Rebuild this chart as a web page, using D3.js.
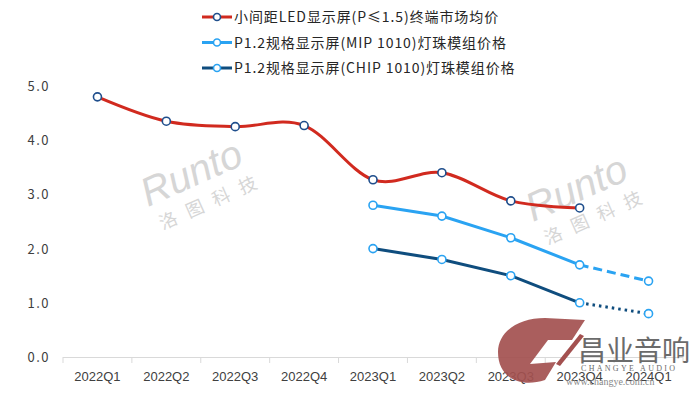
<!DOCTYPE html>
<html>
<head>
<meta charset="utf-8">
<script src="https://cdn.jsdelivr.net/npm/d3@7"></script>
<style>
  body { margin: 0; background: #fff; }
  svg { display: block; font-family: "Noto Sans CJK SC", "Noto Sans", sans-serif; }
</style>
</head>
<body>
<div id="chart"></div>
<script>
// data
const quarters = ["2022Q1", "2022Q2", "2022Q3", "2022Q4", "2023Q1", "2023Q2", "2023Q3", "2023Q4", "2024Q1"];
const terminalPrice = [4.8, 4.35, 4.25, 4.27, 3.27, 3.4, 2.88, 2.75];
const mipQuarters = ["2023Q1", "2023Q2", "2023Q3", "2023Q4", "2024Q1"];
const mipPrice = [2.8, 2.6, 2.2, 1.7, 1.4];
const chipPrice = [2.0, 1.8, 1.5, 1.0, 0.8];
const yTicks = [0, 1, 2, 3, 4, 5];
const seriesNames = ["小间距LED显示屏(P≤1.5)终端市场均价", "P1.2规格显示屏(MIP 1010)灯珠模组价格", "P1.2规格显示屏(CHIP 1010)灯珠模组价格"];

const width = 700, height = 394;
const RED = "#d12a1f", LIGHT = "#2aa3f2", DARK = "#0f4d7e", MARK_DARK = "#1f4e8c";

const svg = d3.select("#chart").append("svg")
    .attr("width", width)
    .attr("height", height);

let x = d3.scaleBand().domain(quarters).range([63, 683]);
let y = d3.scaleLinear().domain([0, 5]).range([357, 86]);
const cx = q => x(q) + x.bandwidth() / 2;

// watermarks (drawn first, behind the lines)
function runto(px, py) {
    let g = svg.append("g").attr("transform", `translate(${px},${py}) rotate(-24)`).attr("fill", "#d6d6d6");
    g.append("text").attr("font-family", "Liberation Sans").attr("font-style", "italic")
        .attr("font-size", 40).attr("x", 0).attr("y", 0).text("Runto");
    g.append("text").attr("font-size", 18).attr("x", 4).attr("y", 27).attr("letter-spacing", 11).text("洛图科技");
}
runto(148, 207);
runto(533, 222);

// x axis
svg.append("line").attr("x1", 63).attr("x2", 683).attr("y1", 357.5).attr("y2", 357.5)
    .attr("stroke", "#d9d9d9").attr("stroke-width", 1.2);
svg.selectAll(".xtick").data(d3.range(quarters.length + 1)).enter().append("line")
    .attr("x1", i => 63 + i * x.step()).attr("x2", i => 63 + i * x.step())
    .attr("y1", 357).attr("y2", 363).attr("stroke", "#d9d9d9");
svg.selectAll(".xlab").data(quarters).enter().append("text")
    .attr("x", d => cx(d)).attr("y", 381)
    .attr("text-anchor", "middle").attr("font-size", 13).attr("fill", "#404040")
    .attr("font-family", "Liberation Sans")
    .text(d => d);

// y labels
svg.selectAll(".ylab").data(yTicks).enter().append("text")
    .attr("x", 50).attr("y", d => y(d) + 5)
    .attr("text-anchor", "end").attr("font-size", 13).attr("fill", "#404040")
    .attr("letter-spacing", 1.5)
    .text(d => d.toFixed(1));

// logo bottom right
let logo = svg.append("g");
logo.append("path")
    .attr("fill-rule", "evenodd")
    .attr("d", "M545,318 L585,320 L572,340 L548,340 L530,364 L556,362 L545,380 C520,388 498,378 498,352 C498,332 518,318 545,318 Z")
    .attr("fill", "#a3504f").attr("opacity", 0.92);
logo.append("path").attr("d", "M556,364 L580,334 L584,336 L560,366 Z").attr("fill", "#a3504f");
logo.append("text").attr("x", 578).attr("y", 361).attr("font-size", 28).attr("fill", "#6b6b6b")
    .text("昌业音响");
logo.append("text").attr("x", 581).attr("y", 371).attr("font-size", 8).attr("fill", "#6b6b6b")
    .attr("font-family", "Liberation Serif").attr("letter-spacing", 2.3).text("CHANGYE AUDIO");
logo.append("text").attr("x", 566).attr("y", 385).attr("font-size", 10).attr("fill", "#888")
    .attr("font-family", "Liberation Serif").text("www.changye.com.cn");

// red smoothed line
const redPts = terminalPrice.map((v, i) => [cx(quarters[i]), y(v)]);
svg.append("path").datum(redPts)
    .attr("d", d3.line().curve(d3.curveCatmullRom.alpha(0)))
    .attr("fill", "none").attr("stroke", RED).attr("stroke-width", 3);

// blue lines: solid part then dashed/dotted last segment
function seriesLine(vals, color, dash) {
    let pts = vals.map((v, i) => [cx(mipQuarters[i]), y(v)]);
    svg.append("path").datum(pts.slice(0, 4)).attr("d", d3.line())
        .attr("fill", "none").attr("stroke", color).attr("stroke-width", 3);
    svg.append("path").datum(pts.slice(3)).attr("d", d3.line())
        .attr("fill", "none").attr("stroke", color).attr("stroke-width", 3)
        .attr("stroke-dasharray", dash);
    return pts;
}
const mipPts = seriesLine(mipPrice, LIGHT, "9,5");
const chipPts = seriesLine(chipPrice, DARK, "2.5,4");

function markers(pts, stroke) {
    svg.append("g").selectAll("circle").data(pts).enter().append("circle")
        .attr("cx", d => d[0]).attr("cy", d => d[1]).attr("r", 4)
        .attr("fill", "#fff").attr("stroke", stroke).attr("stroke-width", 1.6);
}
markers(redPts, MARK_DARK);
markers(mipPts, LIGHT);
markers(chipPts, LIGHT);

// legend
const legendColors = [[RED, MARK_DARK], [LIGHT, LIGHT], [DARK, LIGHT]];
seriesNames.forEach((name, i) => {
    let ly = 17 + i * 25.5;
    svg.append("line").attr("x1", 202).attr("x2", 232).attr("y1", ly).attr("y2", ly)
        .attr("stroke", legendColors[i][0]).attr("stroke-width", 3);
    svg.append("circle").attr("cx", 217).attr("cy", ly).attr("r", 3.5)
        .attr("fill", "#fff").attr("stroke", legendColors[i][1]).attr("stroke-width", 1.6);
    svg.append("text").attr("x", 234).attr("y", ly + 5)
        .attr("font-size", 14).attr("fill", "#262626")
        .attr("letter-spacing", 0.9)
        .text(name);
});
</script>
</body>
</html>
